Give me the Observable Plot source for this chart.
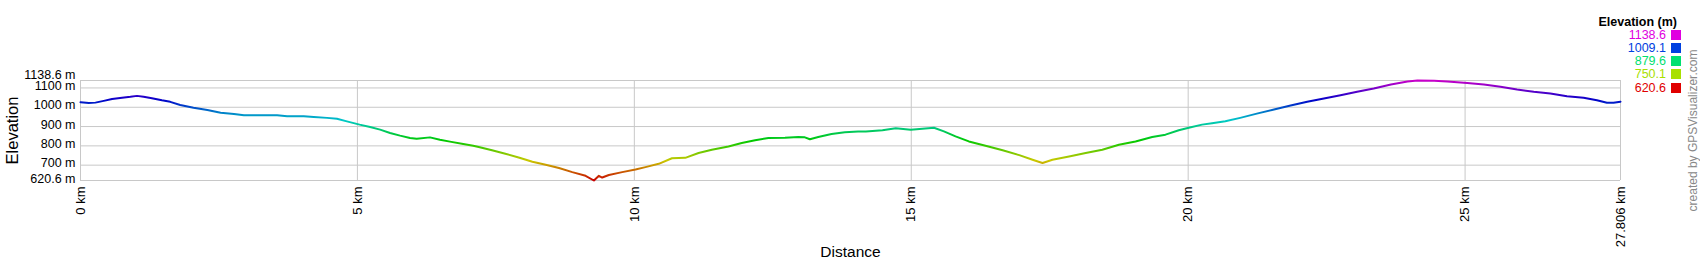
<!DOCTYPE html>
<html>
<head>
<meta charset="utf-8">
<script src="https://cdn.jsdelivr.net/npm/d3@7"></script>
<script src="https://cdn.jsdelivr.net/npm/@observablehq/plot@0.6"></script>
<style>
  html, body { margin: 0; padding: 0; background: #fff; }
  #wrap { position: relative; width: 1700px; height: 260px; font-family: "Liberation Sans", Arial, sans-serif; }
  #legend { position: absolute; right: 19px; top: 14.5px; text-align: right; font-size: 12.5px; }
  #legend .title { font-weight: bold; font-size: 12.5px; line-height: 14px; margin-right: 4px; color: #000; }
  #legend .row { line-height: 13.33px; height: 13.33px; white-space: nowrap; }
  #legend .sw { display: inline-block; width: 10px; height: 10px; margin-left: 5px; vertical-align: -1px; }
</style>
</head>
<body>
<div id="wrap"><div id="chart"></div><div id="legend"></div></div>
<script>
// Distance along the track (km)
const distanceKm = [
  0.00, 0.15, 0.27, 0.42, 0.57, 0.75, 0.90, 1.02, 1.14, 1.29, 1.47, 1.62, 1.80, 2.04, 2.29, 2.53,
  2.77, 2.95, 3.25, 3.55, 3.73, 4.03, 4.21, 4.45, 4.63, 4.81, 5.04, 5.23, 5.41, 5.59, 5.77, 5.95,
  6.07, 6.31, 6.49, 6.67, 6.91, 7.09, 7.19, 7.43, 7.67, 7.91, 8.16, 8.40, 8.64, 8.88, 9.12, 9.27,
  9.36, 9.42, 9.54, 9.78, 10.02, 10.20, 10.44, 10.68, 10.92, 11.16, 11.40, 11.70, 11.94, 12.18,
  12.42, 12.72, 12.96, 13.08, 13.17, 13.32, 13.56, 13.80, 14.04, 14.18, 14.48, 14.72, 14.99, 15.20,
  15.41, 15.59, 15.80, 16.04, 16.34, 16.65, 16.95, 17.19, 17.37, 17.55, 17.85, 18.15, 18.45, 18.75,
  19.05, 19.35, 19.59, 19.83, 20.01, 20.25, 20.43, 20.67, 20.94, 21.24, 21.55, 21.85, 22.15, 22.45,
  22.75, 23.05, 23.35, 23.66, 23.96, 24.14, 24.44, 24.68, 25.04, 25.34, 25.64, 25.94, 26.24, 26.54,
  26.84, 27.14, 27.38, 27.56, 27.68, 27.806
];
// Elevation (m)
const elevationM = [
  1026, 1022, 1024, 1033, 1043, 1049, 1054, 1059, 1054, 1047, 1036, 1028, 1012, 997, 986, 972,
  965, 958, 958, 958, 953, 953, 950, 945, 940, 927, 910, 898, 884, 867, 853, 841,
  837, 844, 832, 822, 810, 801, 794, 777, 759, 740, 718, 702, 685, 664, 645, 620.6,
  645, 636, 649, 664, 678, 690, 707, 736, 738, 763, 780, 797, 815, 829,
  841, 842, 846, 844, 834, 846, 861, 870, 874, 875, 881, 891, 884, 889,
  894, 875, 849, 823, 801, 777, 752, 728, 711, 728, 745, 763, 780, 806,
  823, 846, 858, 881, 894, 910, 917, 927, 945, 967, 988, 1009, 1028, 1045,
  1062, 1080, 1097, 1118, 1133, 1138.6, 1137, 1133, 1126, 1118, 1106, 1092, 1080, 1071,
  1057, 1049, 1036, 1023, 1023, 1029
];
const yTicks = [620.6, 700, 800, 900, 1000, 1100, 1138.6];
const xTicks = [0, 5, 10, 15, 20, 25, 27.806];
const yLabel = "Elevation";
const xLabel = "Distance";
const credit = "created by GPSVisualizer.com";
const legendTitle = "Elevation (m)";
const legendValues = [1138.6, 1009.1, 879.6, 750.1, 620.6];
const legendColors = ["#e000e0", "#0040e0", "#00e070", "#a8e000", "#e00000"];

const data = distanceKm.map((d, i) => ({km: d, m: elevationM[i]}));
const yMin = d3.min(yTicks), yMax = d3.max(yTicks);

const colorOf = d3.scaleLinear().domain(legendValues).range(legendColors).interpolate(d3.interpolateHsl);
const lineColor = v => d3.color(colorOf(v)).darker(0.3).formatHex();

const font = "Liberation Sans, Arial, sans-serif";
const chart = Plot.plot({
  width: 1700,
  height: 260,
  marginLeft: 80,
  marginRight: 80,
  marginTop: 80,
  marginBottom: 80,
  style: {fontFamily: font, background: "#fff", color: "#000"},
  x: {domain: [0, xTicks[xTicks.length - 1]], axis: null},
  y: {domain: [yMin, yMax], axis: null},
  marks: [
    Plot.ruleY(yTicks, {y: d => d, stroke: "#c8c8c8", strokeWidth: 1}),
    Plot.ruleX(xTicks, {x: d => d, stroke: "#c8c8c8", strokeWidth: 1}),
    Plot.line(data, {x: "km", y: "m", stroke: "url(#elevGrad)", strokeWidth: 2, strokeLinejoin: "round"}),
    Plot.text(yTicks.filter(v => v !== yMax), {y: d => d, frameAnchor: "left", text: d => `${d} m`,
      textAnchor: "end", dx: -5, dy: -2, fontSize: 12.5, fill: "#000"}),
    Plot.text([yMax], {y: d => d, frameAnchor: "left", text: d => `${d} m`,
      textAnchor: "end", dx: -5, dy: -6, fontSize: 12.5, fill: "#000"}),
    Plot.text(xTicks, {x: d => d, frameAnchor: "bottom", text: d => `${d} km`, rotate: -90,
      textAnchor: "end", lineAnchor: "middle", dy: 6, fontSize: 13, fill: "#000"}),
    Plot.text([yLabel], {frameAnchor: "left", text: d => d, rotate: -90, dx: -68, textAnchor: "middle",
      lineAnchor: "middle", fontSize: 16.5, fill: "#000"}),
    Plot.text([xLabel], {frameAnchor: "bottom", text: d => d, dy: 72, textAnchor: "middle",
      lineAnchor: "middle", fontSize: 15.5, fill: "#000"}),
    Plot.text([credit], {frameAnchor: "right", text: d => d, rotate: -90, dx: 73, textAnchor: "middle",
      lineAnchor: "middle", fontSize: 12, fill: "#888"})
  ]
});
document.getElementById("chart").appendChild(chart);

// gradient along elevation, positioned with the y scale
const ys = chart.scale("y");
const svg = d3.select(chart.tagName.toLowerCase() === "svg" ? chart : chart.querySelector("svg"));
const grad = svg.insert("defs", ":first-child").append("linearGradient")
  .attr("id", "elevGrad").attr("gradientUnits", "userSpaceOnUse")
  .attr("x1", 0).attr("x2", 0).attr("y1", ys.apply(yMin)).attr("y2", ys.apply(yMax));
d3.range(41).forEach(i => {
  const v = yMin + (yMax - yMin) * i / 40;
  grad.append("stop").attr("offset", i / 40).attr("stop-color", lineColor(v));
});

// legend
const legend = d3.select("#legend");
legend.append("div").attr("class", "title").text(legendTitle);
legendValues.forEach((v, i) => {
  const row = legend.append("div").attr("class", "row");
  row.append("span").style("color", legendColors[i]).text(v.toFixed(1));
  row.append("span").attr("class", "sw").style("background", legendColors[i]);
});
</script>
</body>
</html>
